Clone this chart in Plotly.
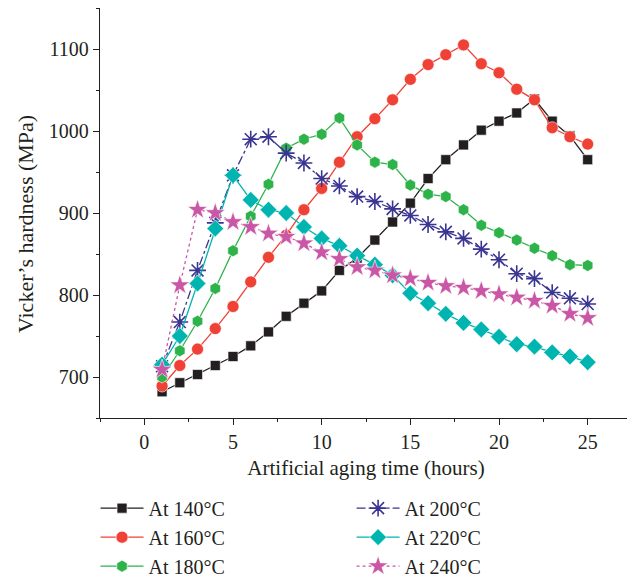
import plotly.graph_objects as go

hours = list(range(1, 26))
h140 = [682, 693, 703, 714, 725, 738, 755, 774, 790, 805, 830, 845, 867, 889, 912, 942, 965, 983, 1001, 1012, 1022, 1039, 1012, 994, 965]
h160 = [689, 714, 734, 759, 786, 816, 846, 873, 904, 930, 962, 993, 1015, 1038, 1063, 1081, 1093, 1105, 1082, 1071, 1051, 1038, 1004, 993, 984]
h180 = [700, 732, 768, 808, 854, 896, 935, 979, 990, 996, 1016, 983, 962, 959, 934, 923, 920, 904, 885, 876, 867, 857, 848, 837, 836]
h200 = [713, 767, 830, 888, 946, 990, 993, 973, 961, 942, 933, 920, 914, 905, 897, 886, 877, 869, 856, 843, 826, 820, 803, 796, 789]
h220 = [715, 750, 814, 881, 946, 916, 904, 900, 883, 869, 860, 848, 837, 824, 802, 790, 777, 766, 758, 749, 740, 737, 730, 725, 718]
h240 = [709, 812, 904, 900, 889, 883, 875, 871, 863, 852, 844, 834, 830, 824, 820, 815, 811, 809, 805, 801, 797, 793, 787, 777, 772]

names = ["At 140°C", "At 160°C", "At 180°C", "At 200°C", "At 220°C", "At 240°C"]
series = [h140, h160, h180, h200, h220, h240]
colors = ["#231f20", "#ef4136", "#2db34a", "#3b3592", "#00b5b0", "#c957a5"]
symbols = ["square", "circle", "hexagon", "asterisk-open", "diamond", "star"]
sizes = [10, 12, 12, 14, 13, 15]
dashes = ["solid", "solid", "solid", "dashdot", "solid", "dot"]
legends = ["legend", "legend", "legend", "legend2", "legend2", "legend2"]

FONT = "Liberation Serif"
fig = go.Figure()
for name, ys, c, s, sz, d, lg in zip(names, series, colors, symbols, sizes, dashes, legends):
    if s == "asterisk-open":
        mline = dict(color=c, width=1.6)
    else:
        mline = dict(color="white", width=0.6)
    fig.add_trace(go.Scatter(
        x=hours, y=ys, name=name, mode="lines+markers",
        line=dict(color=c, width=1.3, dash=d),
        marker=dict(symbol=s, size=sz, color=c, line=mline),
        legend=lg,
    ))

axis_common = dict(
    showline=True, linecolor="#231f20", linewidth=1.3,
    ticks="outside", ticklen=6, tickwidth=1.2, tickcolor="#231f20",
    showgrid=False, zeroline=False,
    tickfont=dict(family=FONT, size=20, color="#231f20"),
    minor=dict(ticks="outside", ticklen=3, tickwidth=1.2, tickcolor="#231f20"),
)

leg_common = dict(yanchor="top", xanchor="left", xref="container", yref="container",
                  font=dict(family=FONT, size=20),
                  itemwidth=43, bgcolor="rgba(0,0,0,0)")

# the page body adds an 8px offset, so the figure is 8px smaller than the window
fig.update_layout(
    width=627, height=569,
    margin=dict(l=92, r=3, t=0, b=159, autoexpand=False),
    paper_bgcolor="white", plot_bgcolor="white",
    font=dict(family=FONT, size=20, color="#231f20"),
    xaxis=dict(range=[-2.5, 27.5], dtick=5, tick0=0,
               title=dict(text="Artificial aging time (hours)", font=dict(family=FONT, size=21), standoff=8),
               **axis_common),
    yaxis=dict(range=[650, 1150], dtick=100, tick0=700, **axis_common),
    legend=dict(x=0.1396, y=0.1553, **leg_common),
    legend2=dict(x=0.548, y=0.1553, **leg_common),
    showlegend=True,
    annotations=[dict(
        text="Vicker’s hardness (MPa)", textangle=-90, showarrow=False,
        xref="paper", yref="paper", x=-0.141, y=0.473,
        xanchor="center", yanchor="middle",
        font=dict(family=FONT, size=22, color="#231f20"),
    )],
)
fig.update_xaxes(minor=dict(dtick=2.5, tick0=-2.5))
fig.update_yaxes(minor=dict(dtick=50, tick0=650))

fig.write_html("out.html")
